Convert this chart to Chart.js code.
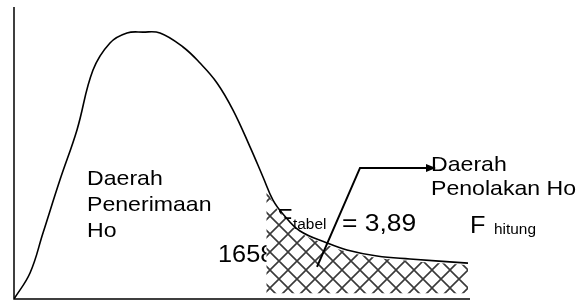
<!DOCTYPE html>
<html>
<head>
<meta charset="utf-8">
<script src="https://cdn.jsdelivr.net/npm/chart.js@4/dist/chart.umd.min.js"></script>
<style>
  html, body { margin: 0; padding: 0; background: #fff; }
  #wrap { width: 587px; height: 302px; }
</style>
</head>
<body>
<div id="wrap"><canvas id="fChart"></canvas></div>
<script>
// curve of the F distribution (F value, density)
const curveF = [0, 0.247, 0.447, 0.709, 0.971, 1.218, 1.480, 1.742, 1.989, 2.251, 2.606, 2.868, 3.130, 3.377, 3.639, 3.839, 3.993, 4.160, 4.410, 4.826, 5.134, 5.597, 6.106, 7.0];
const curveY = [0, 0.089, 0.226, 0.408, 0.579, 0.784, 0.877, 0.911, 0.914, 0.911, 0.863, 0.808, 0.740, 0.647, 0.521, 0.418, 0.339, 0.288, 0.233, 0.192, 0.168, 0.147, 0.137, 0.123];

// rejection area (hatched), from F tabel = 3,89 to the end
const tailF = [3.89, 3.993, 4.160, 4.410, 4.826, 5.134, 5.597, 6.106, 7.0];
const tailY = [0.380, 0.330, 0.280, 0.228, 0.186, 0.162, 0.141, 0.130, 0.116];

// arrow pointing to "Daerah Penolakan Ho"
const arrowF = [4.672, 5.335, 6.368];
const arrowY = [0.110, 0.449, 0.449];

const fTabel = '3,89';

const xMax = 7;
const yMax = 1;

const toPts = (xs, ys) => xs.map((x, i) => ({ x: x, y: ys[i] }));

// cross hatch pattern (diamonds)
function makeHatch() {
    const s = 18;
    const c = document.createElement('canvas');
    c.width = s; c.height = s;
    const g = c.getContext('2d');
    g.fillStyle = '#fff';
    g.fillRect(0, 0, s, s);
    g.strokeStyle = '#3a3a3a';
    g.lineWidth = 1.6;
    g.beginPath();
    g.moveTo(0, 0); g.lineTo(s, s);
    g.moveTo(s, 0); g.lineTo(0, s);
    g.stroke();
    return g.createPattern(c, 'repeat');
}

function stretchText(ctx, txt, x, y, size) {
    ctx.save();
    ctx.font = size + 'px "Liberation Sans", Arial, sans-serif';
    ctx.translate(x, y);
    ctx.scale(1.1, 1);
    ctx.fillText(txt, 0, 0);
    ctx.restore();
}

// text that the hatch covers
const underPlugin = {
    id: 'under',
    beforeDatasetsDraw(chart) {
        const { ctx } = chart;
        ctx.save();
        ctx.fillStyle = '#000';
        ctx.textBaseline = 'alphabetic';
        stretchText(ctx, '1658', 218, 262, 23);
        stretchText(ctx, 'F', 277, 226, 23);
        ctx.restore();
    }
};

// axes, labels and arrow head on top
const overPlugin = {
    id: 'over',
    afterDatasetsDraw(chart) {
        const { ctx, chartArea: a, scales: { x, y } } = chart;
        ctx.save();
        ctx.strokeStyle = '#000';
        ctx.lineWidth = 1.5;
        ctx.beginPath();
        ctx.moveTo(a.left, a.top);
        ctx.lineTo(a.left, a.bottom);
        ctx.lineTo(a.right + 2, a.bottom);
        ctx.stroke();

        ctx.fillStyle = '#000';
        ctx.textBaseline = 'alphabetic';
        stretchText(ctx, 'Daerah', 87, 185, 21);
        stretchText(ctx, 'Penerimaan', 87, 211, 21);
        stretchText(ctx, 'Ho', 87, 237, 21);

        stretchText(ctx, 'Daerah', 431, 171, 21);
        stretchText(ctx, 'Penolakan Ho', 431, 195, 21);

        stretchText(ctx, 'tabel', 293, 229, 14);
        stretchText(ctx, '= ' + fTabel, 342, 231, 24);

        stretchText(ctx, 'F', 470, 233, 23);
        stretchText(ctx, 'hitung', 494, 234, 14);

        // arrow head
        const n = arrowF.length;
        const tx = x.getPixelForValue(arrowF[n - 1]);
        const ty = y.getPixelForValue(arrowY[n - 1]);
        ctx.beginPath();
        ctx.moveTo(tx + 9, ty);
        ctx.lineTo(tx - 1, ty - 4);
        ctx.lineTo(tx - 1, ty + 4);
        ctx.closePath();
        ctx.fill();
        ctx.restore();
    }
};

const ctx = document.getElementById('fChart').getContext('2d');

new Chart(ctx, {
    type: 'line',
    data: {
        datasets: [
            {
                data: toPts(arrowF, arrowY),
                borderColor: '#000',
                borderWidth: 2,
                pointRadius: 0,
                tension: 0,
                fill: false
            },
            {
                data: toPts(curveF, curveY),
                borderColor: '#000',
                borderWidth: 1.6,
                pointRadius: 0,
                tension: 0.4,
                fill: false
            },
            {
                data: toPts(tailF, tailY),
                borderWidth: 0,
                borderColor: 'rgba(0,0,0,0)',
                backgroundColor: makeHatch(),
                pointRadius: 0,
                tension: 0.4,
                fill: { value: 0.02 }
            }
        ]
    },
    options: {
        responsive: true,
        maintainAspectRatio: false,
        animation: false,
        layout: { padding: { left: 14, right: 119, top: 7, bottom: 3 } },
        scales: {
            x: { type: 'linear', display: false, min: 0, max: xMax },
            y: { type: 'linear', display: false, min: 0, max: yMax }
        },
        plugins: {
            legend: { display: false },
            tooltip: { enabled: false }
        }
    },
    plugins: [underPlugin, overPlugin]
});
</script>
</body>
</html>
